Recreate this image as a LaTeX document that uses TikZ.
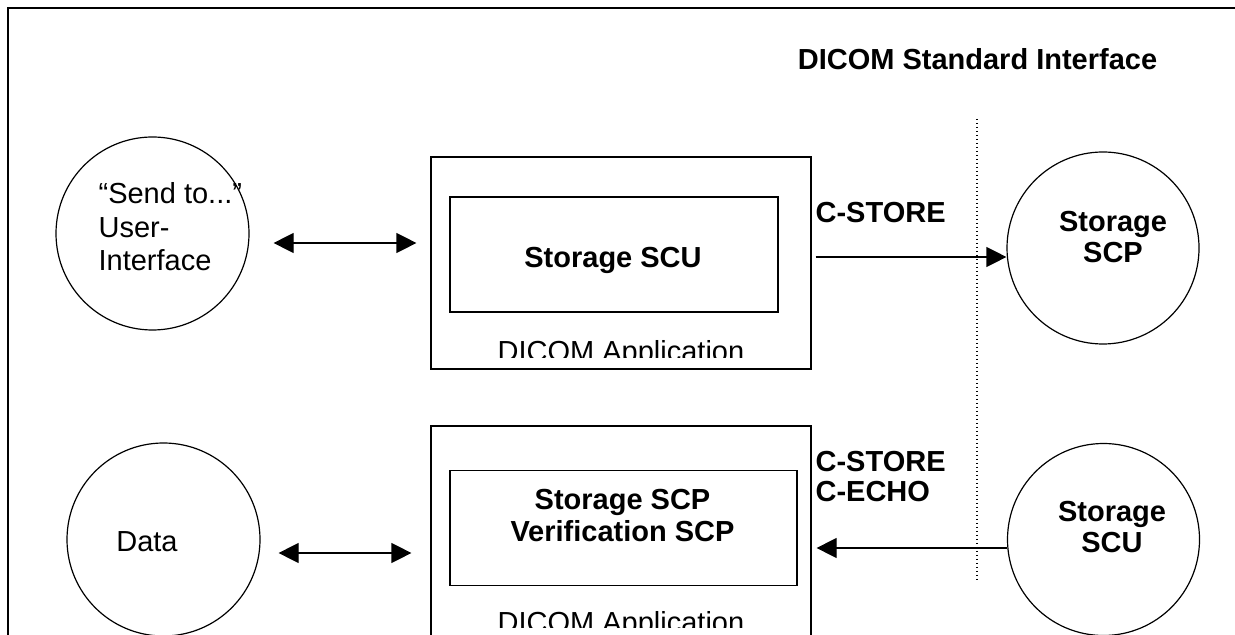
\documentclass[tikz,border=0pt]{standalone}
\usepackage{fontspec}
\setmainfont{Liberation Sans}
\usetikzlibrary{arrows.meta}
\usetikzlibrary{calc}

\begin{document}
\begin{tikzpicture}[x=0.5pt,y=-0.5pt,line width=0.6pt,
        every node/.style={inner sep=0pt},
        font=\fontsize{14.5}{16}\selectfont,
        appbox/.style={draw,minimum width=190pt,minimum height=106pt},
        svcbox/.style={draw,minimum height=57.5pt},
        peer/.style={draw,circle,minimum size=96.5pt},
        msg/.style={-{Triangle[length=10pt,width=10pt]}},
        biarrow/.style={{Triangle[length=10pt,width=10pt]}-{Triangle[length=10pt,width=10pt]}},
        ifaceline/.style={dash pattern=on 0.6pt off 1.4pt}]
        \useasboundingbox (0,0) rectangle (1235,635);
        \draw (8,8) rectangle (1250,650);

        \node[font=\fontsize{14.5}{16}\selectfont\bfseries] (stdif) at (977.5,59) {DICOM Standard Interface};
        \coordinate (ifacetop) at (977,119);
        \coordinate (ifacebot) at (977,580);
        \draw[ifaceline] (ifacetop) -- (ifacebot);

        % local side
        \node[peer] (sendui) at (152.5,233.5) {};
        \node[anchor=west,align=left,font=\fontsize{14.5}{16.75}\selectfont] at (98,227) {“Send to...”\\User-\\Interface};
        \node[peer] (data) at (163.5,539.5) {};
        \node at (147,542) {Data};

        \node[appbox] (scuapp) at (621,263) {};
        \node[svcbox,minimum width=164pt] (scuinner) at (614,254.5) {};
        \node[font=\fontsize{14.5}{16}\selectfont\bfseries] at (613,260) {Storage SCU};
        \begin{scope}
            \clip (431,330) rectangle (811,358);
            \node[anchor=base] at (621,362) {DICOM Application};
        \end{scope}

        \node[appbox] (scpapp) at (621,532) {};
        \node[svcbox,minimum width=173.5pt] (scpinner) at (623.5,528) {};
        \node[align=center,font=\fontsize{14.5}{16}\selectfont\bfseries] at (622.5,516) {Storage SCP\\Verification SCP};
        \begin{scope}
            \clip (431,600) rectangle (811,627);
            \node[anchor=base] at (621,632) {DICOM Application};
        \end{scope}

        % remote side
        \node[peer,minimum size=96pt] (remotescp) at (1103,248) {};
        \node[align=center,font=\fontsize{14.5}{15.5}\selectfont\bfseries] at (1113,237.5) {Storage\\SCP};
        \node[peer,minimum size=96pt] (remotescu) at (1103.5,539.5) {};
        \node[align=center,font=\fontsize{14.5}{15.5}\selectfont\bfseries] at (1112,527.5) {Storage\\SCU};

        \draw[biarrow,shorten <=12pt,shorten >=7pt] ([yshift=-4.75pt]sendui.east) -- ([yshift=10pt]scuapp.west);
        \draw[biarrow,shorten <=9pt,shorten >=9.5pt] ([yshift=-6.75pt]data.east) -- ([yshift=-10.5pt]scpapp.west);

        \coordinate (storeout) at ([yshift=3pt]scuapp.east);
        \draw[msg,shorten <=2pt] (storeout) -- (storeout -| remotescp.west);
        \node[anchor=west,font=\fontsize{14.5}{16}\selectfont\bfseries] at (815,213) {C-STORE};

        \coordinate (echoin) at ([yshift=-8pt]scpapp.east);
        \draw[msg,shorten >=2.5pt] (echoin -| remotescu.west) -- (echoin);
        \node[anchor=west,align=left,font=\fontsize{14.5}{15}\selectfont\bfseries] at (815,477) {C-STORE\\C-ECHO};
    \end{tikzpicture}
\end{document}
